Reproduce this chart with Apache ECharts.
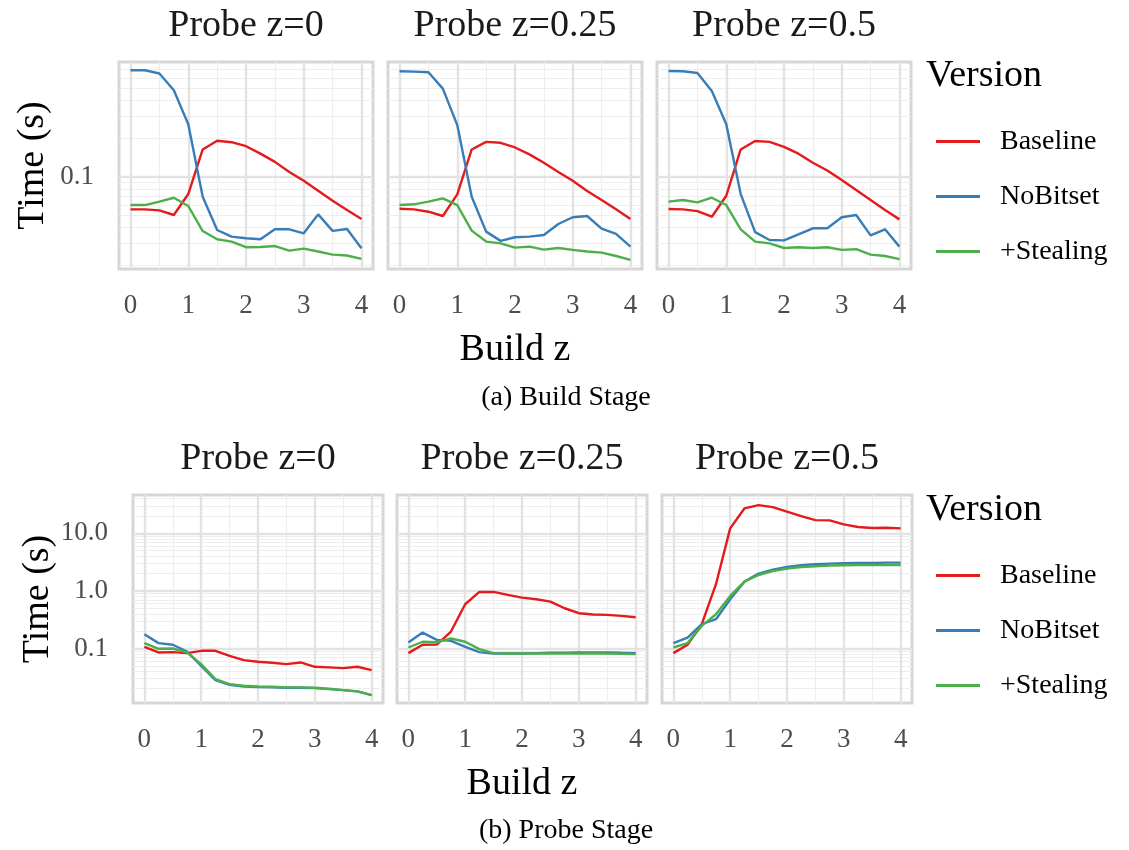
<!DOCTYPE html>
<html>
<head>
<meta charset="utf-8">
<script src="https://cdn.jsdelivr.net/npm/echarts@6/dist/echarts.min.js"></script>
<style>
  html, body { margin: 0; padding: 0; background: #ffffff; }
  #chart { width: 1129px; height: 850px; }
</style>
</head>
<body>
<div id="chart"></div>
<script>
// x values shared by every panel
const buildZ = [0, 0.25, 0.5, 0.75, 1, 1.25, 1.5, 1.75, 2, 2.25, 2.5, 2.75, 3, 3.25, 3.5, 3.75, 4];
const xTickLabels = [0, 1, 2, 3, 4];
const probeTitles = ['Probe z=0', 'Probe z=0.25', 'Probe z=0.5'];
const versions = ['Baseline', 'NoBitset', '+Stealing'];
const buildYTicks = [0.1];
const probeYTicks = [0.1, 1, 10];

// (a) Build Stage: time in seconds
const buildBaselineZ0    = [0.0554, 0.0554, 0.0544, 0.0500, 0.0731, 0.164, 0.192, 0.187, 0.174, 0.152, 0.131, 0.109, 0.093, 0.0776, 0.0648, 0.0547, 0.0465];
const buildNoBitsetZ0    = [0.689, 0.689, 0.649, 0.480, 0.259, 0.0697, 0.0381, 0.0338, 0.0328, 0.0322, 0.0386, 0.0386, 0.0359, 0.0506, 0.0375, 0.0388, 0.0274];
const buildStealingZ0    = [0.0599, 0.0599, 0.0637, 0.0684, 0.0589, 0.0374, 0.0322, 0.0309, 0.0279, 0.0280, 0.0285, 0.0262, 0.0272, 0.0258, 0.0244, 0.0240, 0.0226];

const buildBaselineZ025  = [0.0560, 0.0554, 0.0531, 0.0491, 0.0727, 0.164, 0.188, 0.185, 0.170, 0.150, 0.129, 0.109, 0.093, 0.0772, 0.0656, 0.0554, 0.0465];
const buildNoBitsetZ025  = [0.676, 0.672, 0.664, 0.494, 0.255, 0.0696, 0.0370, 0.0313, 0.0334, 0.0338, 0.0348, 0.0425, 0.0480, 0.0491, 0.0391, 0.0355, 0.0282];
const buildStealingZ025  = [0.0599, 0.0607, 0.0637, 0.0676, 0.0599, 0.0377, 0.0309, 0.0299, 0.0277, 0.0282, 0.0267, 0.0275, 0.0266, 0.0258, 0.0253, 0.0238, 0.0222];

const buildBaselineZ05   = [0.0557, 0.0554, 0.0537, 0.0485, 0.0709, 0.164, 0.191, 0.188, 0.172, 0.152, 0.129, 0.112, 0.0942, 0.0786, 0.0656, 0.0547, 0.0462];
const buildNoBitsetZ05   = [0.680, 0.676, 0.656, 0.473, 0.259, 0.0731, 0.0367, 0.0318, 0.0316, 0.0352, 0.0393, 0.0393, 0.0480, 0.0500, 0.0346, 0.0386, 0.0282];
const buildStealingZ05   = [0.0637, 0.0656, 0.0629, 0.0684, 0.0599, 0.0386, 0.0309, 0.0299, 0.0275, 0.0279, 0.0275, 0.0279, 0.0266, 0.0269, 0.0244, 0.0238, 0.0225];

// (b) Probe Stage: time in seconds
const probeBaselineZ0    = [0.107, 0.0853, 0.0864, 0.0830, 0.0911, 0.0911, 0.0746, 0.0628, 0.0587, 0.0564, 0.0535, 0.0572, 0.0481, 0.0469, 0.0456, 0.0481, 0.0421];
const probeNoBitsetZ0    = [0.177, 0.124, 0.116, 0.0887, 0.0500, 0.0282, 0.0234, 0.0219, 0.0213, 0.0211, 0.0208, 0.0208, 0.0205, 0.0197, 0.0189, 0.0180, 0.0155];
const probeStealingZ0    = [0.124, 0.0987, 0.1000, 0.0853, 0.0535, 0.0294, 0.0240, 0.0225, 0.0219, 0.0216, 0.0211, 0.0211, 0.0208, 0.0200, 0.0189, 0.0180, 0.0155];

const probeBaselineZ025  = [0.083, 0.116, 0.117, 0.197, 0.587, 0.96, 0.96, 0.853, 0.766, 0.717, 0.653, 0.500, 0.410, 0.389, 0.383, 0.368, 0.349];
const probeNoBitsetZ025  = [0.127, 0.189, 0.141, 0.136, 0.107, 0.0864, 0.0819, 0.0819, 0.0819, 0.0830, 0.0841, 0.0841, 0.0853, 0.0853, 0.0853, 0.0841, 0.0830];
const probeStealingZ025  = [0.104, 0.131, 0.129, 0.149, 0.131, 0.0974, 0.0830, 0.0819, 0.0819, 0.0819, 0.0819, 0.0819, 0.0819, 0.0819, 0.0819, 0.0808, 0.0798];

const probeBaselineZ05   = [0.083, 0.116, 0.264, 1.31, 12.2, 27.1, 31.0, 28.6, 23.8, 20.0, 17.0, 16.8, 14.3, 12.9, 12.4, 12.5, 12.2];
const probeNoBitsetZ05   = [0.124, 0.155, 0.264, 0.323, 0.717, 1.45, 2.00, 2.34, 2.61, 2.79, 2.90, 2.98, 3.02, 3.06, 3.06, 3.10, 3.10];
const probeStealingZ05   = [0.104, 0.124, 0.247, 0.394, 0.819, 1.45, 1.89, 2.22, 2.44, 2.61, 2.68, 2.75, 2.79, 2.82, 2.82, 2.82, 2.82];

const SERIF = '"Liberation Serif", "DejaVu Serif", serif';
const COLORS = ['#E41A1C', '#377EB8', '#4DAF4A'];
const GRID_MAJOR = '#E3E3E3';
const GRID_MINOR = '#EEEEEE';
const BORDER = '#D6D6D6';

// one row per stage, three facets each
const rows = [
  {
    lefts: [119, 388, 657], width: 254, top: 62, height: 207,
    yMin: 0.0188, yMax: 0.8, yTicks: buildYTicks,
    data: [
      [buildBaselineZ0, buildNoBitsetZ0, buildStealingZ0],
      [buildBaselineZ025, buildNoBitsetZ025, buildStealingZ025],
      [buildBaselineZ05, buildNoBitsetZ05, buildStealingZ05]
    ],
    titleY: 26, legendTop: 121, headerY: 76, caption: '(a) Build Stage', captionY: 398
  },
  {
    lefts: [133, 397, 662], width: 250, top: 495, height: 208,
    yMin: 0.0113, yMax: 46.4, yTicks: probeYTicks,
    data: [
      [probeBaselineZ0, probeNoBitsetZ0, probeStealingZ0],
      [probeBaselineZ025, probeNoBitsetZ025, probeStealingZ025],
      [probeBaselineZ05, probeNoBitsetZ05, probeStealingZ05]
    ],
    titleY: 459, legendTop: 555, headerY: 510, caption: '(b) Probe Stage', captionY: 831
  }
];

// log-scale gridline values (k * 10^n) inside an axis range
function logGridValues(lo, hi) {
  const major = [], minor = [];
  for (let e = -3; e <= 3; e++) {
    for (let k = 1; k <= 9; k++) {
      const v = +(k * Math.pow(10, e)).toPrecision(6);
      if (v <= lo || v >= hi) continue;
      (k === 1 ? major : minor).push(v);
    }
  }
  return { major, minor };
}
const xMajorGrid = [0, 1, 2, 3, 4];
const xMinorGrid = [0.5, 1.5, 2.5, 3.5];

const grids = [], xAxes = [], yAxes = [], series = [], graphics = [], legends = [];

rows.forEach((row, r) => {
  const yGrid = logGridValues(row.yMin, row.yMax);
  row.lefts.forEach((left, p) => {
    const idx = grids.length;
    grids.push({
      left: left, top: row.top, width: row.width, height: row.height,
      show: true, backgroundColor: '#ffffff', borderColor: BORDER, borderWidth: 3
    });
    xAxes.push({
      type: 'value', gridIndex: idx, min: -0.2, max: 4.2,
      axisLine: { show: false }, axisTick: { show: false }, splitLine: { show: false },
      axisLabel: {
        customValues: xTickLabels, margin: 23,
        fontFamily: SERIF, fontSize: 27, color: '#4D4D4D'
      },
      name: p === 1 ? 'Build z' : '',
      nameLocation: 'middle', nameGap: 62,
      nameTextStyle: { fontFamily: SERIF, fontSize: 38, color: '#000000' }
    });
    yAxes.push({
      type: 'log', gridIndex: idx, min: row.yMin, max: row.yMax,
      axisLine: { show: false }, axisTick: { show: false }, splitLine: { show: false },
      axisLabel: {
        show: p === 0, customValues: row.yTicks, margin: 25,
        fontFamily: SERIF, fontSize: 27, color: '#4D4D4D',
        formatter: v => (v >= 1 ? Number(v).toFixed(1) : String(+Number(v).toPrecision(3)))
      },
      name: p === 0 ? 'Time (s)' : '',
      nameLocation: 'middle', nameGap: 67, nameRotate: 90,
      nameTextStyle: { fontFamily: SERIF, fontSize: 38, color: '#000000' }
    });

    // panel gridlines
    const lineItems = [];
    yGrid.minor.forEach(v => lineItems.push({ yAxis: v, lineStyle: { color: GRID_MINOR, width: 1.2 } }));
    xMinorGrid.forEach(v => lineItems.push({ xAxis: v, lineStyle: { color: GRID_MINOR, width: 1.2 } }));
    yGrid.major.forEach(v => lineItems.push({ yAxis: v, lineStyle: { color: GRID_MAJOR, width: 2.4 } }));
    xMajorGrid.forEach(v => lineItems.push({ xAxis: v, lineStyle: { color: GRID_MAJOR, width: 2.4 } }));
    series.push({
      type: 'line', xAxisIndex: idx, yAxisIndex: idx, data: [], silent: true,
      markLine: {
        silent: true, z: 1, symbol: 'none', animation: false,
        label: { show: false }, emphasis: { disabled: true },
        lineStyle: { type: 'solid' },
        data: lineItems
      }
    });

    row.data[p].forEach((vals, s) => {
      series.push({
        type: 'line', name: versions[s], xAxisIndex: idx, yAxisIndex: idx,
        data: buildZ.map((x, i) => [x, vals[i]]),
        showSymbol: false, symbol: 'none', z: 3 + s,
        lineStyle: { color: COLORS[s], width: 2.4 },
        itemStyle: { color: COLORS[s] },
        emphasis: { disabled: true }, animation: false
      });
    });

    graphics.push({
      type: 'text', silent: true,
      style: {
        text: probeTitles[p], x: left + row.width / 2, y: row.titleY,
        align: 'center', verticalAlign: 'middle',
        font: '38px ' + SERIF, fill: '#1A1A1A'
      }
    });
  });

  legends.push({
    orient: 'vertical', left: 931, top: row.legendTop,
    data: versions, icon: 'rect', itemWidth: 44, itemHeight: 3, itemGap: 24,
    selectedMode: false,
    textStyle: { fontFamily: SERIF, fontSize: 28, color: '#000000', lineHeight: 31, padding: [0, 0, 0, 15] }
  });
  graphics.push({
    type: 'text', silent: true,
    style: { text: 'Version', x: 926, y: row.headerY, align: 'left', verticalAlign: 'middle',
             font: '38px ' + SERIF, fill: '#000000' }
  });
  graphics.push({
    type: 'text', silent: true,
    style: { text: row.caption, x: 566, y: row.captionY, align: 'center', verticalAlign: 'middle',
             font: '28px ' + SERIF, fill: '#000000' }
  });
});

const chart = echarts.init(document.getElementById('chart'), null, { renderer: 'canvas' });
chart.setOption({
  backgroundColor: '#ffffff',
  animation: false,
  grid: grids,
  xAxis: xAxes,
  yAxis: yAxes,
  legend: legends,
  graphic: graphics,
  series: series
});
</script>
</body>
</html>
